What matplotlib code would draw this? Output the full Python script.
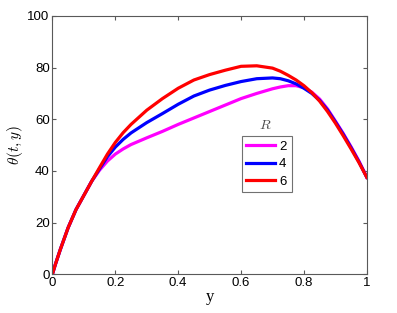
import numpy as np
import matplotlib
matplotlib.use("Agg")
import matplotlib.pyplot as plt

plt.rcParams['font.family'] = ['Liberation Sans', 'DejaVu Sans']
plt.rcParams['mathtext.fontset'] = 'cm'

# values
y_pos = [0, 0.01, 0.025, 0.05, 0.075, 0.1, 0.125, 0.15, 0.175, 0.2, 0.225,
         0.25, 0.3, 0.35, 0.4, 0.45, 0.5, 0.55, 0.6, 0.65, 0.7, 0.725, 0.75,
         0.775, 0.8, 0.825, 0.85, 0.875, 0.9, 0.925, 0.95, 0.975, 1.0]
theta_r2 = [0, 4, 9.5, 18, 25, 30.5, 36, 40.3, 43.8, 46.5, 48.5,
            50.2, 52.8, 55.3, 58, 60.5, 63, 65.5, 68, 70, 71.8, 72.5, 73,
            73, 72.2, 70.5, 67.8, 64, 59.3, 54.5, 49.3, 43.8, 37.5]
theta_r4 = [0, 4, 9.5, 18, 25, 30.5, 36, 40.8, 45.5, 49.2, 52.2,
            54.7, 58.7, 62.2, 65.8, 69, 71.3, 73.1, 74.6, 75.7, 76, 75.7, 74.9,
            73.7, 72, 70, 67.3, 63.6, 59, 54.2, 49, 43.5, 37.5]
theta_r6 = [0, 4, 9.5, 18, 25, 30.5, 36, 41.3, 46.5, 51, 54.8,
            58, 63.5, 68, 72, 75.2, 77.3, 79, 80.5, 80.7, 79.8, 78.6, 77,
            75.2, 73, 70.3, 67, 63, 58.5, 53.6, 48.5, 43.2, 37.5]
r_values = ['2', '4', '6']
colors = ['#ff00ff', '#0000ff', '#ff0000']

fig = plt.figure(figsize=(3.97, 3.13), dpi=100)
ax = fig.add_axes([0.132, 0.124, 0.792, 0.825])

for series, lab, c in zip([theta_r2, theta_r4, theta_r6], r_values, colors):
    ax.plot(y_pos, series, color=c, lw=2.3, label=lab)

ax.set_xlim(0, 1)
ax.set_ylim(0, 100)
ax.set_xticks([0, 0.2, 0.4, 0.6, 0.8, 1])
ax.set_xticklabels(['0', '0.2', '0.4', '0.6', '0.8', '1'])
ax.set_yticks([0, 20, 40, 60, 80, 100])
ax.tick_params(direction='in', top=True, right=True, labelsize=9.5,
               length=3, color='0.35', pad=2)
for s in ax.spines.values():
    s.set_color('0.35')

ax.set_xlabel('y', family='Liberation Serif', fontsize=12, labelpad=0)
ax.set_ylabel(r'$\theta(t,y)$', fontsize=11, labelpad=2)

leg = ax.legend(loc='upper left', bbox_to_anchor=(0.602, 0.535, 0.161, 0.0),
                mode='expand', fontsize=9.5, handlelength=2.2, handletextpad=0.3,
                borderpad=0.33, labelspacing=0.4, fancybox=False,
                borderaxespad=0)
leg.get_frame().set_edgecolor('0.3')
leg.get_frame().set_linewidth(0.8)
ax.text(0.678, 0.578, '$R$', transform=ax.transAxes, ha='center', va='center',
        fontsize=10, color='0.3')

fig.savefig('out.png', dpi=100)
